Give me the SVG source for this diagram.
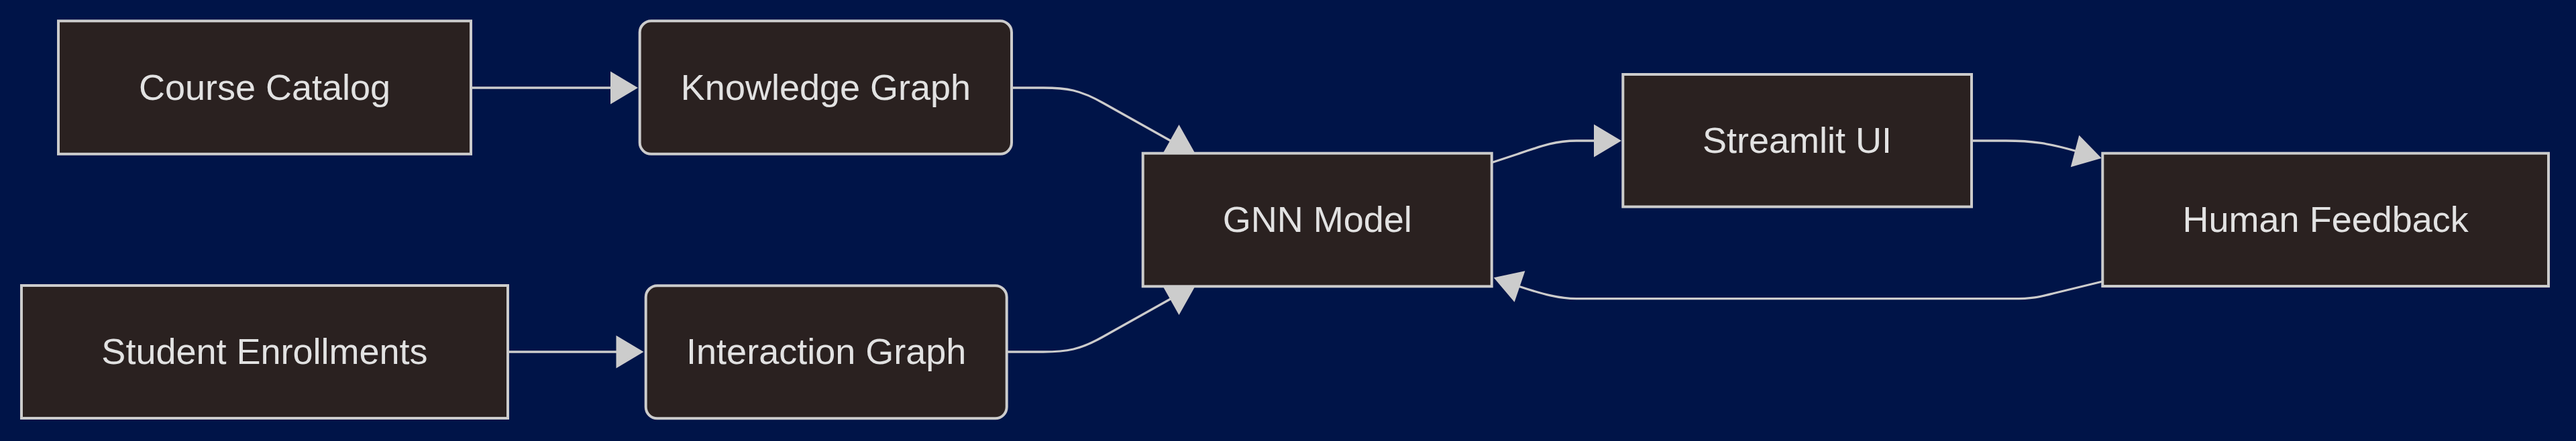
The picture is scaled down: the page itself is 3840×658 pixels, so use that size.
<svg xmlns="http://www.w3.org/2000/svg" width="3840" height="658" viewBox="0 0 3840 658">
<style>
.node rect{fill:#2a2120;stroke:#cccccc;stroke-width:4}
.node text{fill:#e2e2e2;font-family:"Liberation Sans",Arial,sans-serif;font-size:54px;text-anchor:middle}
.edge{fill:none;stroke:#cccccc;stroke-width:3.3}
.arrowhead{fill:#cccccc;stroke:none}
</style>
<rect x="0" y="0" width="3840" height="658" fill="#001448"/>
<g id="connectors">
<path class="edge" d="M704 131 L912 131"/>
<polygon class="arrowhead" points="910,106.5 951,131 910,155.5"/>
<path class="edge" d="M759 525 L920 525"/>
<polygon class="arrowhead" points="918.5,500.5 959.5,525 918.5,549.5"/>
<path class="edge" d="M1508 131 L1555 131 C1590 131 1610 134 1645 154 L1752 214"/>
<polygon class="arrowhead" points="1734.5,227 1780.5,227 1757.5,186"/>
<path class="edge" d="M1501 525 L1555 525 C1590 525 1610 522 1645 502 L1752 442"/>
<polygon class="arrowhead" points="1734.5,429 1780.5,429 1757.5,470"/>
<path class="edge" d="M2224 242.5 L2262 230 C2300 217 2320 210 2350 210 L2380 210"/>
<polygon class="arrowhead" points="2376,185.5 2417,210 2376,234.5"/>
<path class="edge" d="M2940 210 L2990 210 C3030 210 3055 214 3095 225.5"/>
<polygon class="arrowhead" points="3099.3,201.8 3132.7,236 3086.8,249.2"/>
<path class="edge" d="M3134 420 L3060 438 C3040 443 3030 445.7 3000 445.7 L2350 445.7 C2325 445.7 2300 439 2265 427.5"/>
<polygon class="arrowhead" points="2273.4,404.3 2226.7,414.3 2257.6,450.7"/>
</g>
<g id="course-catalog" class="node">
<rect x="87" y="31.3" width="615" height="198.5"/>
<text x="394.5" y="148.5">Course Catalog</text>
</g>
<g id="knowledge-graph" class="node">
<rect x="953.7" y="31.3" width="554.3" height="198.5" rx="17" ry="17"/>
<text x="1231" y="148.5">Knowledge Graph</text>
</g>
<g id="student-enrollments" class="node">
<rect x="32" y="426" width="725" height="198"/>
<text x="394.5" y="543">Student Enrollments</text>
</g>
<g id="interaction-graph" class="node">
<rect x="962.7" y="426.3" width="538" height="198" rx="17" ry="17"/>
<text x="1231.7" y="543">Interaction Graph</text>
</g>
<g id="gnn-model" class="node">
<rect x="1703.7" y="228.7" width="520" height="198.6"/>
<text x="1963.7" y="346">GNN Model</text>
</g>
<g id="streamlit-ui" class="node">
<rect x="2419.3" y="111" width="519.7" height="197.5"/>
<text x="2679" y="228">Streamlit UI</text>
</g>
<g id="human-feedback" class="node">
<rect x="3134.3" y="228.7" width="664.7" height="198.3"/>
<text x="3466.7" y="346">Human Feedback</text>
</g>
</svg>
